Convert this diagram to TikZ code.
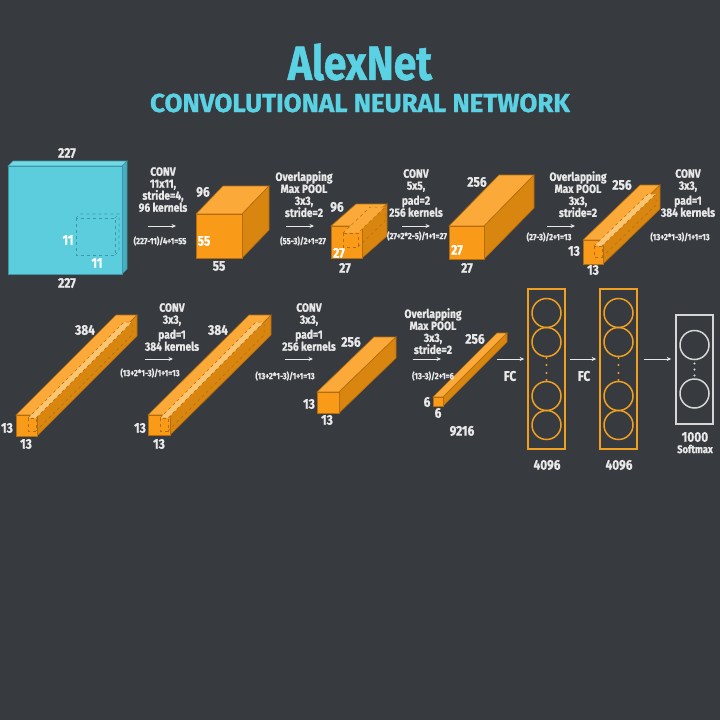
\documentclass[tikz,border=0pt]{standalone}
\usepackage{fontspec}
\setmainfont{Fira Sans}[FakeStretch=0.85, BoldFeatures={FakeBold=1}]
\newfontfamily\widefont{Fira Sans}[FakeStretch=1.0, BoldFeatures={FakeBold=1}]
\usetikzlibrary{arrows.meta}

\definecolor{bg}{HTML}{373A3F}
\definecolor{txtc}{HTML}{E8E8E8}
\definecolor{ttlc}{HTML}{5BD2E3}
\definecolor{cyfront}{HTML}{5CCDDD}
\definecolor{cytop}{HTML}{74D8E6}
\definecolor{cyside}{HTML}{47AFBF}
\definecolor{cyedge}{HTML}{3C98A6}
\definecolor{orfront}{HTML}{F99A18}
\definecolor{ortop}{HTML}{FBAA3A}
\definecolor{orside}{HTML}{D98611}
\definecolor{oredge}{HTML}{B46C0C}
\definecolor{slotc}{HTML}{FCC572}
\definecolor{fcc}{HTML}{EFA021}
\definecolor{smc}{HTML}{D6D6D6}

% front top-left (x,y), width, height, depth dx, depth dy, colour prefix
\newcommand{\cuboid}[7]{%
  \filldraw[fill=#7top, draw=#7edge, line width=0.6pt] (#1,#2) -- ++(#5,-#6) -- ++(#3,0) -- ++(-#5,#6) -- cycle;
  \filldraw[fill=#7side, draw=#7edge, line width=0.6pt] (#1+#3,#2) -- ++(#5,-#6) -- ++(0,#4) -- ++(-#5,#6) -- cycle;
  \filldraw[fill=#7front, draw=#7edge, line width=0.6pt] (#1,#2) rectangle ++(#3,#4);
}
% dashed kernel window inside a block
\newcommand{\kernelslot}[7]{%
  \filldraw[fill=#7, draw=oredge, dashed, line width=0.5pt] (#1,#2) -- ++(#5,-#6) -- ++(#3,0) -- ++(-#5,#6) -- cycle;
  \draw[draw=oredge, dashed, line width=0.5pt] (#1,#2) rectangle ++(#3,#4);
  \draw[draw=oredge, dashed, line width=0.5pt] (#1+#3,#2+#4) -- ++(#5,-#6) -- ++(0,-#4);
}

\begin{document}
\begin{tikzpicture}[x=1pt,y=-1pt,
  lbl/.style={font=\bfseries\fontsize{14}{14}\selectfont, text=txtc, inner sep=0},
  op/.style={font=\bfseries\fontsize{12}{12}\selectfont, text=txtc, align=center, inner sep=0, anchor=north},
  calc/.style={font=\bfseries\fontsize{9}{9}\selectfont, text=txtc, inner sep=0},
  arr/.style={draw=txtc, line width=1pt, -{Stealth[length=4.5pt,width=4pt]}},
  fcbox/.style={draw=#1, line width=1.6pt, minimum width=37pt, inner sep=0},
  unit/.style={draw=#1, line width=1.5pt, circle, minimum size=29pt, inner sep=0}]
\fill[bg] (0,0) rectangle (720,720);
\useasboundingbox (0,0) rectangle (720,720);

% title
\node[font=\bfseries\fontsize{48}{48}\selectfont, text=ttlc] (ttl) at (360,62) {AlexNet};
\node[font=\widefont\bfseries\fontsize{26}{26}\selectfont, text=ttlc] (sub) at (360,103) {CONVOLUTIONAL NEURAL NETWORK};

% row 1 blocks
\cuboid{8}{166}{114}{108}{5}{5}{cy}
\draw[cyedge, dashed, line width=0.6pt] (76,218) rectangle ++(39,37);
\draw[cyedge, dashed, line width=0.6pt] (76,218) -- ++(4,-4) -- ++(39,0) -- ++(0,37) -- ++(-4,4);
\draw[cyedge, dashed, line width=0.6pt] (115,218) -- ++(4,-4);
\cuboid{196}{214}{46}{44}{27}{28}{or}
\cuboid{331}{226}{31}{32}{25}{22}{or}
\kernelslot{343}{233}{15}{14}{27}{26}{ortop}
\cuboid{449}{226}{35}{33}{50}{51}{or}
\cuboid{583}{240}{20}{24}{57}{55}{or}
\kernelslot{594}{246}{8}{11}{54}{52}{slotc}

% row 2 blocks
\cuboid{16}{415}{21}{21}{100}{100}{or}
\kernelslot{28}{418}{8}{13}{96}{96}{slotc}
\cuboid{148}{415}{22}{20}{101}{100}{or}
\kernelslot{160}{418}{8}{13}{96}{96}{slotc}
\cuboid{317}{392}{22}{21}{57}{55}{or}
\cuboid{433}{397}{10}{9}{64}{64}{or}

% block sizes
\node[lbl] (in-w) at (67,153) {227};
\node[lbl] (in-h) at (67,283) {227};
\node[lbl, text=white] (k1-h) at (68,240) {11};
\node[lbl, text=white] (k1-w) at (97,263) {11};
\node[lbl] (c1-d) at (203,192) {96};
\node[lbl, text=white] (c1-h) at (204,241) {55};
\node[lbl] (c1-w) at (219,266) {55};
\node[lbl] (p1-d) at (337,207) {96};
\node[lbl, text=white] (p1-h) at (339,253) {27};
\node[lbl] (p1-w) at (345,268) {27};
\node[lbl] (c2-d) at (477,182) {256};
\node[lbl, text=white] (c2-h) at (457,250) {27};
\node[lbl] (c2-w) at (467,268) {27};
\node[lbl] (p2-d) at (622,185) {256};
\node[lbl] (p2-h) at (574,251) {13};
\node[lbl] (p2-w) at (593,270) {13};
\node[lbl] (c3-d) at (85,330) {384};
\node[lbl] (c3-h) at (7,428) {13};
\node[lbl] (c3-w) at (26,444) {13};
\node[lbl] (c4-d) at (218,330) {384};
\node[lbl] (c4-h) at (140,428) {13};
\node[lbl] (c4-w) at (159,444) {13};
\node[lbl] (c5-d) at (351,342) {256};
\node[lbl] (c5-h) at (309,404) {13};
\node[lbl] (c5-w) at (327,420) {13};
\node[lbl] (p3-d) at (475,339) {256};
\node[lbl] (p3-h) at (427,402) {6};
\node[lbl] (p3-w) at (438,413) {6};
\node[lbl] (flat) at (462,431) {9216};

% operations
\node[op] (conv1) at (163,167) {CONV\\11x11,\\stride=4,\\96 kernels};
\node[op] (pool1) at (304,171) {Overlapping\\Max POOL\\3x3,\\stride=2};
\node[op] (conv2) at (416,169) {CONV\\5x5,\\[3pt]pad=2\\256 kernels};
\node[op] (pool2) at (578,171) {Overlapping\\Max POOL\\3x3,\\stride=2};
\node[op] (conv3) at (688,169) {CONV\\3x3,\\[3pt]pad=1\\384 kernels};
\node[op] (conv4) at (172,303) {CONV\\3x3,\\[3pt]pad=1\\384 kernels};
\node[op] (conv5) at (309,303) {CONV\\3x3,\\[3pt]pad=1\\256 kernels};
\node[op] (pool3) at (433,308) {Overlapping\\Max POOL\\3x3,\\stride=2};

\node[calc] (f1) at (160,241) {(227-11)/4+1=55};
\node[calc] (f2) at (303,241) {(55-3)/2+1=27};
\node[calc] (f3) at (417,236) {(27+2*2-5)/1+1=27};
\node[calc] (f4) at (549,237) {(27-3)/2+1=13};
\node[calc] (f5) at (680,237) {(13+2*1-3)/1+1=13};
\node[calc] (f6) at (150,373) {(13+2*1-3)/1+1=13};
\node[calc] (f7) at (285,376) {(13+2*1-3)/1+1=13};
\node[calc] (f8) at (433,376) {(13-3)/2+1=6};

\foreach \n/\x/\y in {1/148/226, 2/286/226, 3/402/226, 4/547/226,
                      6/145/359, 7/285/359, 8/413/359} {
  \coordinate (s\n) at (\x,\y);
  \coordinate (e\n) at (\x+28,\y);
  \draw[arr] (s\n) -- (e\n);
}

% fully connected layers
\node[fcbox=fcc, minimum height=160pt] (fc1) at (546.5,369) {};
\node[fcbox=fcc, minimum height=160pt] (fc2) at (618.5,369) {};
\node[fcbox=smc, minimum height=109pt] (sm) at (694.5,369.5) {};
\foreach \b in {fc1,fc2} {
  \foreach \i/\dy in {a/56,b/27,c/-27,d/-56}
    \node[unit=fcc] (\b\i) at ([yshift=\dy]\b.center) {};
  \foreach \dy in {11,4,-4,-11}
    \fill[fcc] ([yshift=\dy]\b.center) circle (1.2pt);
}
\node[unit=smc] (sma) at ([yshift=24.5]sm.center) {};
\node[unit=smc] (smb) at ([yshift=-24]sm.center) {};
\foreach \dy in {6,0,-6}
  \fill[smc] ([yshift=\dy]sm.center) circle (1.2pt);

\coordinate (fcin) at (497,359);
\draw[arr, shorten >=3pt] (fcin) -- ([yshift=10]fc1.west);
\draw[arr, shorten <=4pt, shorten >=3pt] ([yshift=10]fc1.east) -- ([yshift=10]fc2.west);
\draw[arr, shorten <=6pt, shorten >=4pt] ([yshift=10]fc2.east) -- ([yshift=10.5]sm.west);

\node[lbl] (fc1-l) at (510,376) {FC};
\node[lbl] (fc2-l) at (584,376) {FC};
\node[lbl] (fc1-n) at (547,465) {4096};
\node[lbl] (fc2-n) at (619,465) {4096};
\node[lbl] (sm-n) at (695,437) {1000};
\node[calc, font=\bfseries\fontsize{11}{11}\selectfont] (sm-l) at (695,449) {Softmax};
\end{tikzpicture}
\end{document}
